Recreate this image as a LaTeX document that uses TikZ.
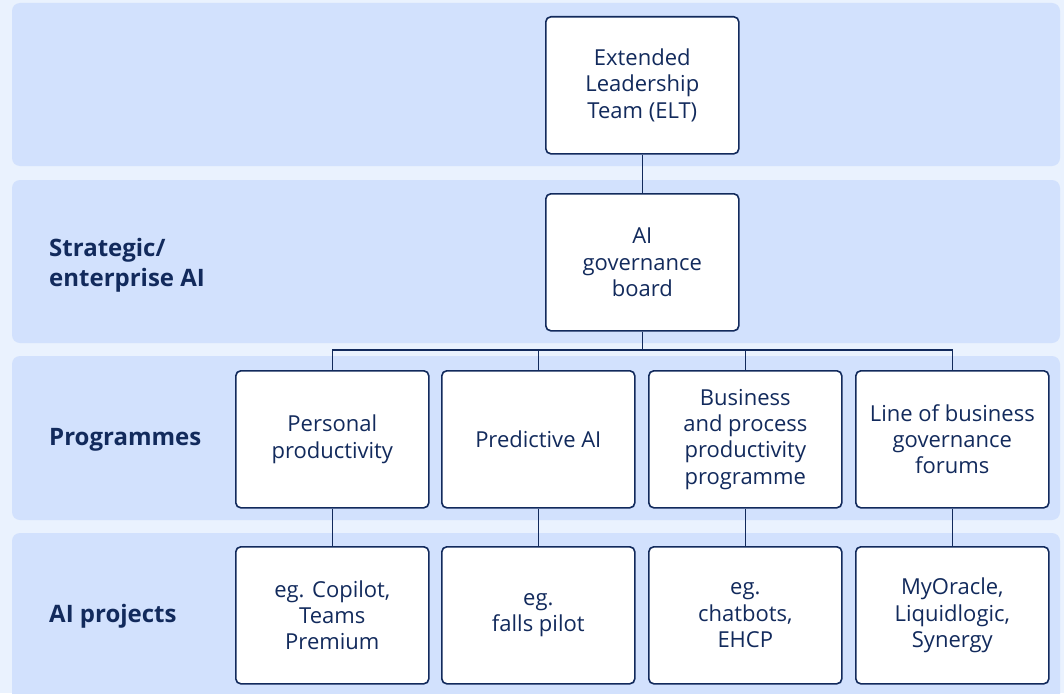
\documentclass[tikz,border=0pt]{standalone}
\usepackage{fontspec}
\setmainfont{Open Sans}
\begin{document}
\begin{tikzpicture}[x=1pt,y=-1pt,
  band/.style={fill=bandc, draw=none, rounded corners=8pt},
  box/.style={draw=navy, line width=1.6pt, fill=white, rounded corners=5pt,
    minimum width=193pt, minimum height=137pt, inner sep=0pt, align=center,
    text=navy, font=\fontsize{22}{26.3}\selectfont, anchor=north west},
  lbl/.style={anchor=west, align=left, inner sep=0pt, text=navy, font=\fontsize{24}{30}\selectfont\bfseries},
  conn/.style={draw=navy, line width=1.6pt}]
\definecolor{bgc}{HTML}{EAF2FE}
\definecolor{bandc}{HTML}{D2E1FD}
\definecolor{navy}{HTML}{122A5C}
\useasboundingbox (0,0) rectangle (1064,693);
\fill[bgc] (0,0) rectangle (1064,693);
\path[band] (12,3) rectangle (1060,166);
\path[band] (12,180) rectangle (1060,343);
\path[band] (12,356) rectangle (1060,520);
\path[band] (12,533) rectangle (1060,703);

\node[lbl] (l1) at (49,265) {Strategic/\\enterprise AI};
\node[lbl] (l2) at (49,440) {Programmes};
\node[lbl] (l3) at (49,616) {AI projects};

\node[box] (elt) at (545,16) {Extended\\Leadership\\Team (ELT)};
\node[box] (gov) at (545,193) {AI\\governance\\board};

\node[box] (p1) at (235,370) {Personal\\productivity};
\node[box] (p2) at (441,370) {Predictive AI};
\node[box] (p3) at (648,370) {Business\\and process\\productivity\\programme};
\node[box] (p4) at (855,370) {Line of business\\governance\\forums};

\node[box] (a1) at (235,546) {eg. Copilot,\\Teams\\Premium};
\node[box] (a2) at (441,546) {eg.\\falls pilot};
\node[box] (a3) at (648,546) {eg.\\chatbots,\\EHCP};
\node[box] (a4) at (855,546) {MyOracle,\\Liquidlogic,\\Synergy};

\coordinate (bus) at (0,350);
\draw[conn] (elt.south) -- (gov.north);
\draw[conn] (gov.south) -- (gov.south |- bus);
\draw[conn] (p1.north) -- (p1.north |- bus) -- (p4.north |- bus) -- (p4.north);
\draw[conn] (p2.north) -- (p2.north |- bus);
\draw[conn] (p3.north) -- (p3.north |- bus);
\foreach \i in {1,2,3,4} { \draw[conn] (p\i.south) -- (a\i.north); }
\end{tikzpicture}
\end{document}
